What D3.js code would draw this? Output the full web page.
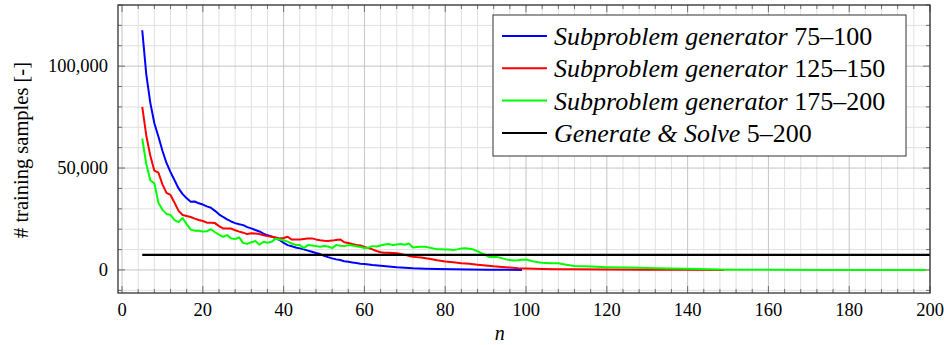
<!DOCTYPE html>
<html>
<head>
<meta charset="utf-8">
<script src="https://cdn.jsdelivr.net/npm/d3@7"></script>
</head>
<body style="margin:0">
<div id="vis"></div>
<script>
// Subproblem generator 75-100
var blueN = [5, 6, 7, 8, 9, 10, 11, 12, 13, 14, 15, 16, 17, 18, 19, 20, 21, 22, 23, 24,
  25, 26, 27, 28, 29, 30, 31, 32, 33, 34, 35, 36, 37, 38, 39, 40, 41, 42, 43, 44,
  45, 46, 47, 48, 49, 50, 51, 52, 53, 54, 55, 56, 57, 58, 59, 60, 62, 64, 66, 68,
  70, 72, 75, 78, 82, 86, 90, 95, 99];
var blueV = [117600, 96000, 82000, 72000, 65500, 58500, 52500, 48000, 44000, 40000,
  37200, 35200, 33500, 33600, 32700, 32100, 31200, 30500, 29000, 27300,
  26000, 24800, 23800, 23000, 22400, 22000, 21000, 20400, 19600, 18900,
  17800, 17000, 16400, 15600, 14700, 13300, 12200, 11600, 11000, 10600,
  10100, 9500, 8900, 8300, 7800, 7000, 6300, 5700, 5200, 4900,
  4300, 4000, 3700, 3400, 3100, 2900, 2450, 2100, 1700, 1300,
  1050, 830, 650, 490, 330, 200, 120, 60, 30];

// Subproblem generator 125-150
var redN = [5, 6, 7, 8, 9, 10, 11, 12, 13, 14, 15, 16, 17, 18, 19, 20, 21, 22, 23, 24,
  25, 26, 27, 28, 29, 30, 31, 32, 33, 34, 35, 36, 37, 38, 39, 40, 41, 42, 43, 44,
  45, 46, 47, 48, 49, 50, 51, 52, 53, 54, 55, 56, 57, 58, 59, 60, 61, 62, 63, 64,
  65, 66, 68, 69, 70, 71, 72, 73, 74, 76, 78, 80, 82, 84, 86, 88, 90, 92, 94, 96,
  98, 100, 104, 108, 112, 120, 130, 140, 149];
var redV = [80000, 66000, 56000, 48700, 47800, 42000, 37800, 36800, 33000, 29000,
  27000, 26500, 26000, 25200, 24500, 24000, 23200, 23200, 23000, 21500,
  20400, 20400, 20300, 19500, 18800, 18300, 17600, 18000, 17900, 17600,
  17000, 16600, 16300, 16000, 15500, 15700, 16300, 14900, 15000, 15000,
  15200, 15400, 15500, 15000, 14600, 14300, 14200, 14400, 14700, 15000,
  13600, 13200, 12700, 12300, 12000, 11300, 10800, 10100, 9300, 8700,
  8500, 8400, 8200, 7900, 7400, 6900, 6500, 6300, 6100, 5500,
  4800, 4200, 3800, 3300, 3000, 2600, 2200, 1800, 1500, 1200,
  900, 700, 450, 350, 300, 230, 150, 80, 40];

// Subproblem generator 175-200
var greenN = [5, 6, 7, 8, 9, 10, 11, 12, 13, 14, 15, 16, 17, 18, 19, 20, 21, 22, 23, 24,
  25, 26, 27, 28, 29, 30, 31, 32, 33, 34, 35, 36, 37, 38, 39, 40, 41, 42, 43, 44,
  45, 46, 47, 48, 49, 50, 51, 52, 53, 54, 55, 56, 57, 58, 59, 60, 61, 62, 63, 64,
  65, 66, 67, 68, 69, 70, 71, 72, 73, 74, 75, 76, 77, 78, 79, 80, 81, 82, 83, 84,
  85, 86, 87, 88, 89, 90, 91, 92, 93, 94, 95, 96, 97, 98, 99, 100, 101, 102, 103, 104,
  106, 108, 110, 112, 114, 116, 120, 125, 130, 135, 140, 145, 150, 160, 175, 199];
var greenV = [64500, 52000, 44000, 42500, 33000, 29500, 27500, 27000, 24500, 23500,
  25500, 22500, 19800, 19300, 19200, 18900, 19000, 20000, 18500, 17300,
  16300, 17100, 15500, 15200, 16000, 13200, 12800, 13600, 14200, 12400,
  13800, 13400, 13800, 15300, 15000, 14600, 13900, 13000, 12300, 12200,
  10700, 12200, 12000, 11700, 11400, 11800, 11500, 10700, 12200, 11900,
  11700, 12200, 12000, 11600, 11300, 10700, 10900, 11700, 11500, 12000,
  12500, 12700, 12200, 12500, 12700, 12400, 13000, 11000, 11300, 11400,
  11400, 11000, 10600, 10200, 10200, 10100, 10000, 9800, 10100, 10500,
  10600, 10400, 10000, 9200, 8200, 7300, 6300, 6500, 6300, 5800,
  5200, 4900, 4700, 4800, 5000, 5100, 4600, 4100, 3800, 3600,
  3300, 3250, 2600, 2000, 1800, 1650, 1350, 1150, 950, 750,
  550, 350, 150, 50, 20, 10];

// Generate & Solve 5-200 (constant)
var blackN = [5, 200];
var blackV = [7400, 7400];

var legendItalic = ['Subproblem generator', 'Subproblem generator', 'Subproblem generator', 'Generate & Solve'];
var legendRange = ['75\u2013100', '125\u2013150', '175\u2013200', '5\u2013200'];
var lineColors = ['#0000ff', '#ff0000', '#00ff00', '#000000'];

var xMajorTicks = [0, 20, 40, 60, 80, 100, 120, 140, 160, 180, 200];
var yMajorTicks = [0, 50000, 100000];

var series = [
  { n: blueN, v: blueV },
  { n: redN, v: redV },
  { n: greenN, v: greenV },
  { n: blackN, v: blackV }
];

// Size of the page and plot box
var width = 944;
var height = 345;
var plot = { left: 118, right: 930, top: 5, bottom: 293 };

var x = d3.scaleLinear().domain([-1, 200]).range([plot.left, plot.right]);
var y = d3.scaleLinear().domain([-11300, 130000]).range([plot.bottom, plot.top]);

// Text uses the browser default face (Times-like serif)
var svg = d3.select('#vis').append('svg')
  .attr('width', width)
  .attr('height', height);

// Minor ticks every 4 on x and every 10,000 on y
var xMinor = d3.range(0, 201, 4).filter(function (d) { return d % 20 !== 0; });
var yMinor = d3.range(-10000, 130001, 10000).filter(function (d) { return d % 50000 !== 0; });

var grid = svg.append('g').attr('class', 'grid');

grid.selectAll('.vminor').data(xMinor).enter().append('line')
  .attr('x1', function (d) { return x(d); }).attr('x2', function (d) { return x(d); })
  .attr('y1', plot.top).attr('y2', plot.bottom)
  .attr('stroke', '#e0e0e0').attr('stroke-width', 1);

grid.selectAll('.hminor').data(yMinor).enter().append('line')
  .attr('y1', function (d) { return y(d); }).attr('y2', function (d) { return y(d); })
  .attr('x1', plot.left).attr('x2', plot.right)
  .attr('stroke', '#e0e0e0').attr('stroke-width', 1);

grid.selectAll('.vmajor').data(xMajorTicks).enter().append('line')
  .attr('x1', function (d) { return x(d); }).attr('x2', function (d) { return x(d); })
  .attr('y1', plot.top).attr('y2', plot.bottom)
  .attr('stroke', '#c4c4c4').attr('stroke-width', 1);

grid.selectAll('.hmajor').data(yMajorTicks).enter().append('line')
  .attr('y1', function (d) { return y(d); }).attr('y2', function (d) { return y(d); })
  .attr('x1', plot.left).attr('x2', plot.right)
  .attr('stroke', '#c4c4c4').attr('stroke-width', 1);

// Inward tick marks on all four sides
var ticks = svg.append('g').attr('stroke', '#707070').attr('stroke-width', 1);
function xTickMarks(data, len) {
  data.forEach(function (d) {
    ticks.append('line').attr('x1', x(d)).attr('x2', x(d))
      .attr('y1', plot.bottom).attr('y2', plot.bottom - len);
    ticks.append('line').attr('x1', x(d)).attr('x2', x(d))
      .attr('y1', plot.top).attr('y2', plot.top + len);
  });
}
function yTickMarks(data, len) {
  data.forEach(function (d) {
    ticks.append('line').attr('y1', y(d)).attr('y2', y(d))
      .attr('x1', plot.left).attr('x2', plot.left + len);
    ticks.append('line').attr('y1', y(d)).attr('y2', y(d))
      .attr('x1', plot.right).attr('x2', plot.right - len);
  });
}
xTickMarks(xMinor, 4);
xTickMarks(xMajorTicks, 7);
yTickMarks(yMinor, 4);
yTickMarks(yMajorTicks, 7);

// Data lines
var line = d3.line()
  .x(function (d) { return x(d[0]); })
  .y(function (d) { return y(d[1]); });

svg.append('g').selectAll('path').data(series).enter().append('path')
  .attr('d', function (s) { return line(s.n.map(function (n, i) { return [n, s.v[i]]; })); })
  .attr('fill', 'none')
  .attr('stroke', function (d, i) { return lineColors[i]; })
  .attr('stroke-width', function (d, i) { return i === 3 ? 2.4 : 2; })
  .attr('stroke-linejoin', 'round');

// Plot border
svg.append('rect')
  .attr('x', plot.left).attr('y', plot.top)
  .attr('width', plot.right - plot.left).attr('height', plot.bottom - plot.top)
  .attr('fill', 'none').attr('stroke', '#333').attr('stroke-width', 1.3);

// Tick labels
var fmt = d3.format(',');
svg.append('g').selectAll('text').data(xMajorTicks).enter().append('text')
  .attr('x', function (d) { return x(d); })
  .attr('y', 316)
  .attr('text-anchor', 'middle')
  .style('font-size', '18.5px')
  .text(function (d) { return d; });

svg.append('g').selectAll('text').data(yMajorTicks).enter().append('text')
  .attr('x', 108)
  .attr('y', function (d) { return y(d); })
  .attr('dy', '0.33em')
  .attr('text-anchor', 'end')
  .style('font-size', '18.5px')
  .text(function (d) { return fmt(d); });

// Axis titles
svg.append('text')
  .attr('x', x(93.5)).attr('y', 340)
  .attr('text-anchor', 'middle')
  .style('font-size', '20px').style('font-style', 'italic')
  .text('n');

svg.append('text')
  .attr('transform', 'translate(28,150) rotate(-90)')
  .attr('text-anchor', 'middle')
  .style('font-size', '20.5px')
  .text('# training samples [-]');

// Legend
var legend = svg.append('g').attr('transform', 'translate(493,15)');
legend.append('rect')
  .attr('width', 413).attr('height', 141)
  .attr('fill', '#fff').attr('stroke', '#333').attr('stroke-width', 1);

var rows = legend.selectAll('.row').data(legendItalic).enter().append('g')
  .attr('transform', function (d, i) { return 'translate(0,' + (21 + i * 32.3) + ')'; });

rows.append('line')
  .attr('x1', 9).attr('x2', 54)
  .attr('stroke', function (d, i) { return lineColors[i]; })
  .attr('stroke-width', 2);

var label = rows.append('text')
  .attr('x', 61).attr('dy', '0.35em')
  .style('font-size', '26px');
label.append('tspan').style('font-style', 'italic').text(function (d) { return d; });
label.append('tspan').text(function (d, i) { return ' ' + legendRange[i]; });
</script>
</body>
</html>
